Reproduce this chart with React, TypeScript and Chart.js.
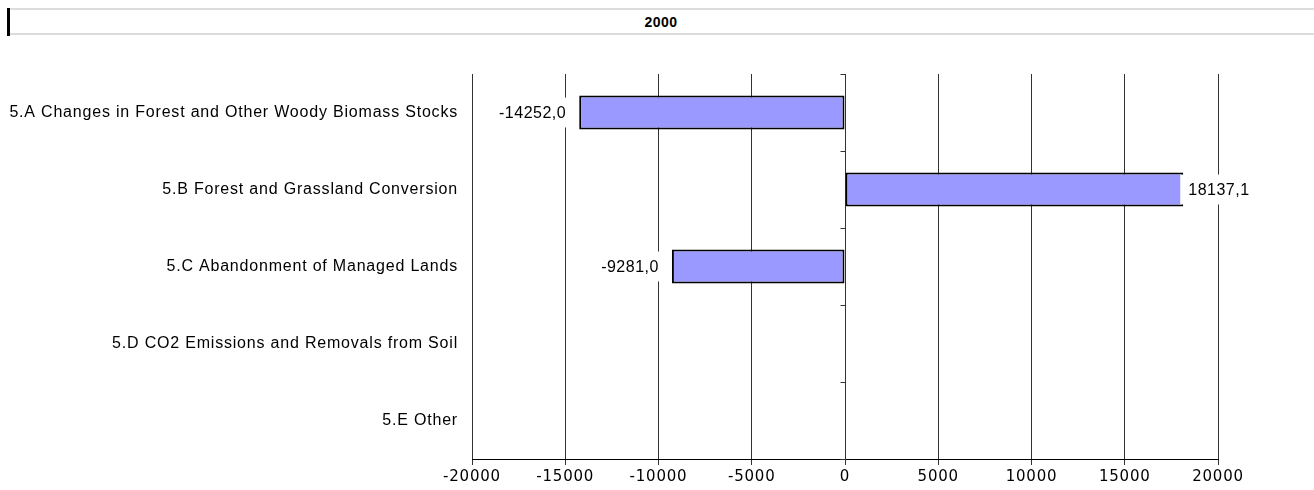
import React, { useEffect, useRef } from "react";
import { Chart, registerables } from "chart.js";

Chart.register(...registerables);

// Land-use change and forestry categories, year 2000
const title = "2000";
const categories = [
  "5.A Changes in Forest and Other Woody Biomass Stocks",
  "5.B Forest and Grassland Conversion",
  "5.C Abandonment of Managed Lands",
  "5.D CO2 Emissions and Removals from Soil",
  "5.E Other",
];
const values: (number | null)[] = [-14252.0, 18137.1, -9281.0, null, null];
const xMin = -20000;
const xMax = 20000;
const xStep = 5000;

const SANS = '"Liberation Sans", Arial, sans-serif';
const WIDE = '"DejaVu Sans", "Liberation Sans", sans-serif';
const SPACING = "0.8px";

const formatValue = (v: number) => v.toFixed(1).replace(".", ",");

// Applies a little letter spacing to every text drawn on the canvas
const spacingPlugin = {
  id: "letterSpacing",
  beforeUpdate(chart: any) {
    chart.ctx.letterSpacing = SPACING;
  },
  beforeDraw(chart: any) {
    chart.ctx.letterSpacing = SPACING;
  },
};

// Small tick marks on the zero line at every category boundary
const zeroTicksPlugin = {
  id: "zeroTicks",
  afterDatasetsDraw(chart: any) {
    const { ctx } = chart;
    const xs = chart.scales.x;
    const ys = chart.scales.y;
    const x0 = Math.round(xs.getPixelForValue(0)) + 0.5;
    ctx.save();
    ctx.strokeStyle = "#333";
    ctx.lineWidth = 1;
    ctx.beginPath();
    for (let i = 0; i <= categories.length; i++) {
      const y = Math.round(ys.getPixelForValue(i - 0.5)) + 0.5;
      ctx.moveTo(x0 - 5, y);
      ctx.lineTo(x0, y);
    }
    ctx.stroke();
    ctx.restore();
  },
};

// Value labels on a white box at the outer end of each bar
const valueLabelPlugin = {
  id: "valueLabels",
  afterDatasetsDraw(chart: any) {
    const { ctx } = chart;
    const meta = chart.getDatasetMeta(0);
    ctx.save();
    ctx.letterSpacing = "0.5px";
    ctx.font = `16px ${SANS}`;
    ctx.textBaseline = "middle";
    meta.data.forEach((bar: any, i: number) => {
      const v = values[i];
      if (v === null || v === undefined) return;
      const text = formatValue(v);
      const w = ctx.measureText(text).width;
      const { x, y, height } = bar;
      const top = y - height / 2 + 2;
      const h = height - 4;
      ctx.fillStyle = "#fff";
      if (v >= 0) {
        const tx = x + 5;
        ctx.fillRect(x - 3, top, w + 10, h);
        ctx.fillStyle = "#000";
        ctx.textAlign = "left";
        ctx.fillText(text, tx, y + 1);
      } else {
        const tr = x - 14;
        ctx.fillRect(tr - w - 3, top, w + 6, h);
        ctx.fillStyle = "#000";
        ctx.textAlign = "right";
        ctx.fillText(text, tr + 1, y + 1);
      }
    });
    ctx.restore();
  },
};

export default function App() {
  const canvasRef = useRef<HTMLCanvasElement | null>(null);

  useEffect(() => {
    const canvas = canvasRef.current;
    if (!canvas) return;
    const chart = new Chart(canvas, {
      type: "bar",
      data: {
        labels: categories,
        datasets: [
          {
            data: values,
            backgroundColor: "#9999FF",
            borderColor: "#000",
            borderWidth: 2,
            borderSkipped: false,
            barPercentage: 0.44,
            categoryPercentage: 1,
          },
        ],
      },
      options: {
        indexAxis: "y",
        animation: false,
        responsive: false,
        maintainAspectRatio: false,
        layout: { padding: { top: 39, right: 96, left: 0, bottom: 0 } },
        plugins: {
          legend: { display: false },
          tooltip: { enabled: false },
          title: { display: false },
        },
        scales: {
          x: {
            type: "linear",
            min: xMin,
            max: xMax,
            ticks: {
              stepSize: xStep,
              color: "#000",
              font: { size: 15, family: WIDE },
              padding: 3,
              maxRotation: 0,
              callback: (v: any) => String(v),
            },
            grid: {
              color: "#333",
              lineWidth: 1,
              tickLength: 6,
              tickColor: "#333",
            },
            border: { display: true, color: "#000", width: 1 },
            afterFit: (s: any) => {
              s.height = 31;
            },
          },
          y: {
            type: "category",
            grid: { display: false },
            border: { display: false },
            ticks: {
              color: "#000",
              font: { size: 16, family: SANS },
              padding: 6,
            },
            afterFit: (s: any) => {
              s.width = 464;
            },
          },
        },
      },
      plugins: [spacingPlugin, zeroTicksPlugin, valueLabelPlugin],
    } as any);
    return () => chart.destroy();
  }, []);

  return (
    <div
      style={{
        position: "absolute",
        left: 8,
        top: 8,
        width: 1306,
        height: 482,
      }}
    >
      <div
        style={{
          position: "relative",
          height: 23,
          borderTop: "2px solid #dcdcdc",
          borderBottom: "2px solid #dcdcdc",
          fontFamily: SANS,
          fontWeight: "bold",
          fontSize: 14,
          letterSpacing: "0.5px",
          color: "#000",
          textAlign: "center",
          lineHeight: "25px",
        }}
      >
        <div
          style={{
            position: "absolute",
            left: -1,
            top: -2,
            width: 3,
            height: 28,
            background: "#000",
          }}
        />
        {title}
      </div>
      <canvas
        ref={canvasRef}
        width={1306}
        height={455}
        style={{ display: "block", width: 1306, height: 455 }}
      />
    </div>
  );
}
